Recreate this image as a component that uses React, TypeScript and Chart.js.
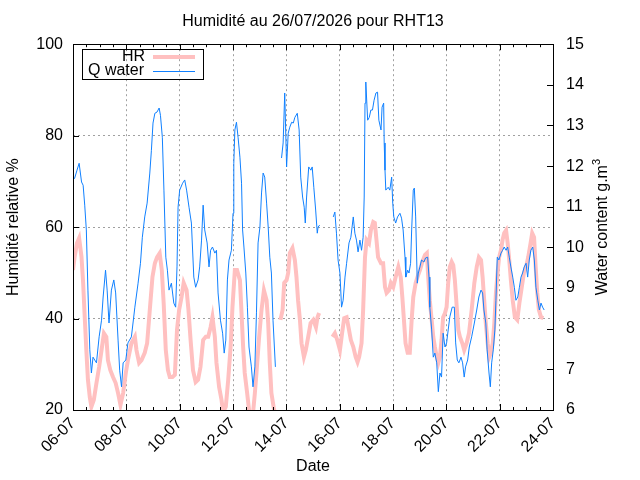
import { useEffect, useRef } from 'react';
import { Chart, registerables } from 'chart.js';

Chart.register(...registerables);

const TITLE = 'Humidité au 26/07/2026 pour RHT13';
const HR_LABEL = 'HR';
const Q_LABEL = 'Q water';
const HR_COLOR = '#ffc0c0';
const Q_COLOR = '#1080ff';
const FONT = "'Liberation Sans', Arial, sans-serif";

// x tick labels (one every 2 days, starting 06-07)
const dayLabels = ['06-07', '08-07', '10-07', '12-07', '14-07', '16-07', '18-07', '20-07', '22-07', '24-07'];

// [days since 06-07 00:00, value] — the logger has two holes, so each series is kept in segments
const hrSeg1: [number, number][] = [
  [0.00, 50.6], [0.06, 53.4], [0.15, 56.5], [0.23, 57.6], [0.32, 53.4], [0.38, 47.8], [0.44, 40.3], [0.50, 33.1],
  [0.56, 26.6], [0.63, 22.8], [0.69, 20.7], [0.78, 22.2], [0.88, 25.9], [0.98, 29.4], [1.07, 33.1], [1.16, 36.8],
  [1.25, 36.0], [1.31, 30.9], [1.40, 28.7], [1.50, 27.2], [1.60, 25.9], [1.69, 23.7], [1.78, 21.1], [1.88, 23.7],
  [1.98, 28.1], [2.06, 30.9], [2.19, 34.6], [2.32, 36.0], [2.38, 33.1], [2.48, 30.3], [2.57, 30.9], [2.69, 32.5],
  [2.78, 34.6], [2.88, 41.9], [2.98, 49.1], [3.07, 52.1], [3.15, 53.4], [3.25, 54.3], [3.33, 50.6], [3.40, 43.4],
  [3.48, 33.1], [3.56, 28.7], [3.63, 27.2], [3.73, 27.2], [3.82, 27.7], [3.90, 37.5], [3.98, 41.9], [4.07, 44.7],
  [4.15, 47.8], [4.26, 46.2], [4.33, 41.9], [4.41, 35.3], [4.50, 28.7], [4.60, 26.1], [4.69, 26.6], [4.78, 29.4],
  [4.88, 35.3], [4.98, 36.0], [5.07, 36.0], [5.16, 38.1], [5.23, 40.3], [5.32, 36.0], [5.38, 30.3], [5.48, 25.0],
  [5.57, 22.2], [5.63, 19.5], [5.73, 20.7], [5.82, 26.6], [5.91, 33.8], [5.98, 42.5], [6.07, 50.6], [6.15, 50.6],
  [6.26, 48.4], [6.32, 41.2], [6.38, 33.8], [6.44, 28.1], [6.53, 23.7], [6.63, 18.5], [6.73, 18.0], [6.82, 23.7],
  [6.88, 28.1], [6.98, 36.0], [7.07, 41.9], [7.16, 46.2], [7.26, 44.0], [7.32, 39.0], [7.38, 30.3], [7.44, 23.7],
  [7.53, 20.4], [7.61, 18.5],
];
const hrSeg2: [number, number][] = [
  [7.78, 39.7], [7.86, 41.9], [7.92, 47.8], [8.01, 48.4], [8.07, 50.0], [8.13, 54.3], [8.23, 55.4], [8.32, 52.8],
  [8.38, 49.1], [8.44, 44.0], [8.51, 39.7], [8.57, 34.6], [8.66, 31.6], [8.73, 33.1], [8.82, 36.0], [8.91, 39.0],
  [9.01, 39.7], [9.11, 38.1], [9.17, 40.3], [9.23, 41.2],
];
const hrSeg3: [number, number][] = [
  [9.73, 36.0], [9.82, 36.8], [9.91, 35.3], [10.01, 33.1], [10.09, 36.8], [10.17, 40.1], [10.26, 40.3], [10.35, 37.5],
  [10.42, 35.3], [10.51, 33.8], [10.60, 31.6], [10.67, 30.5], [10.73, 31.6], [10.82, 34.6], [10.88, 41.9], [10.95, 53.4],
  [11.01, 57.2], [11.10, 56.5], [11.17, 59.3], [11.26, 61.1], [11.32, 60.9], [11.38, 57.2], [11.44, 53.4], [11.55, 52.1],
  [11.63, 52.1], [11.70, 46.9], [11.76, 45.6], [11.85, 46.2], [11.92, 47.8], [12.01, 46.9], [12.10, 49.1], [12.20, 51.3],
  [12.29, 49.1], [12.35, 44.7], [12.41, 39.7], [12.47, 34.6], [12.55, 32.5], [12.63, 32.5], [12.70, 39.7], [12.76, 44.7],
  [12.85, 47.8], [12.92, 49.1], [13.01, 50.6], [13.10, 52.4], [13.20, 53.9], [13.27, 54.3], [13.32, 49.1], [13.38, 44.0],
  [13.45, 39.7], [13.51, 36.0], [13.57, 33.8], [13.64, 31.6], [13.70, 30.3], [13.76, 31.6], [13.82, 35.3], [13.88, 40.3],
  [13.95, 41.2], [14.01, 42.5], [14.07, 47.8], [14.13, 51.3], [14.20, 52.4], [14.26, 51.7], [14.32, 48.4], [14.39, 42.5],
  [14.45, 37.5], [14.51, 36.0], [14.60, 34.6], [14.67, 33.1], [14.76, 34.6], [14.85, 36.8], [14.95, 41.9], [15.05, 47.8],
  [15.14, 51.3], [15.22, 53.4], [15.30, 52.8], [15.36, 49.1], [15.42, 44.0], [15.48, 39.0], [15.55, 34.6], [15.61, 31.6],
  [15.67, 32.5], [15.74, 34.6], [15.80, 39.0], [15.86, 45.6], [15.93, 50.6], [15.98, 53.4], [16.05, 55.0], [16.11, 57.2],
  [16.17, 58.7], [16.24, 59.3], [16.30, 56.5], [16.36, 52.8], [16.42, 48.4], [16.49, 44.0], [16.57, 40.3], [16.66, 39.7],
  [16.74, 43.4], [16.83, 46.9], [16.91, 50.0], [16.99, 51.3], [17.07, 53.4], [17.16, 56.5], [17.22, 58.7], [17.29, 57.8],
  [17.35, 51.3], [17.41, 45.6], [17.47, 41.9], [17.55, 40.3], [17.64, 40.1],
];

const qSeg1: [number, number][] = [
  [0.00, 11.66], [0.06, 11.70], [0.15, 11.90], [0.23, 12.07], [0.32, 11.61], [0.38, 11.53], [0.44, 11.04], [0.50, 10.43],
  [0.56, 8.95], [0.63, 7.48], [0.69, 6.91], [0.75, 7.30], [0.88, 7.16], [0.98, 7.80], [1.07, 8.21], [1.13, 8.78],
  [1.22, 9.44], [1.28, 8.95], [1.35, 8.14], [1.44, 8.95], [1.53, 9.20], [1.60, 8.88], [1.69, 7.72], [1.75, 6.98],
  [1.82, 6.57], [1.88, 7.16], [1.98, 7.23], [2.06, 7.65], [2.19, 7.80], [2.32, 8.53], [2.44, 9.12], [2.53, 9.61],
  [2.60, 10.25], [2.69, 10.75], [2.78, 11.09], [2.88, 11.83], [2.94, 12.39], [3.00, 13.06], [3.07, 13.30], [3.15, 13.33],
  [3.23, 13.43], [3.28, 13.25], [3.35, 12.71], [3.41, 11.41], [3.48, 9.76], [3.54, 9.44], [3.60, 8.95], [3.69, 9.12],
  [3.78, 8.63], [3.85, 8.53], [3.90, 9.52], [3.94, 10.99], [4.00, 11.41], [4.11, 11.58], [4.19, 11.66], [4.26, 11.41],
  [4.35, 10.99], [4.44, 10.60], [4.53, 9.27], [4.60, 9.02], [4.69, 9.20], [4.75, 9.52], [4.82, 10.18], [4.88, 11.04],
  [4.94, 10.43], [5.03, 10.11], [5.10, 9.52], [5.16, 9.93], [5.23, 10.01], [5.32, 9.86], [5.38, 9.93], [5.44, 8.88],
  [5.53, 8.21], [5.61, 7.89], [5.67, 7.40], [5.73, 7.72], [5.79, 9.20], [5.85, 9.69], [5.94, 9.93], [6.00, 10.84],
  [6.03, 12.07], [6.07, 12.89], [6.13, 13.08], [6.19, 12.71], [6.26, 12.22], [6.32, 11.58], [6.36, 10.43], [6.41, 10.01],
  [6.48, 9.37], [6.54, 8.53], [6.60, 7.55], [6.69, 7.06], [6.75, 6.57], [6.82, 7.06], [6.88, 8.39], [6.94, 10.11],
  [7.01, 10.50], [7.07, 11.34], [7.13, 11.83], [7.19, 11.73], [7.26, 11.09], [7.32, 10.50], [7.38, 9.76], [7.44, 9.37],
  [7.50, 8.21], [7.59, 7.06],
];
const qSeg2: [number, number][] = [
  [7.82, 12.20], [7.88, 12.57], [7.94, 13.80], [8.01, 11.98], [8.07, 12.81], [8.13, 12.96], [8.20, 13.08], [8.26, 13.06],
  [8.32, 13.20], [8.41, 13.30], [8.48, 12.89], [8.54, 11.73], [8.61, 11.24], [8.67, 10.99], [8.71, 10.60], [8.76, 11.24],
  [8.84, 11.98], [8.92, 11.90], [8.97, 11.98], [9.03, 11.48], [9.10, 10.92], [9.16, 10.35], [9.19, 10.50], [9.25, 10.55],
];
const qSeg3: [number, number][] = [
  [9.76, 10.75], [9.82, 10.87], [9.88, 10.35], [9.94, 9.69], [10.01, 9.37], [10.07, 8.53], [10.13, 8.70], [10.20, 9.27],
  [10.26, 9.61], [10.35, 10.11], [10.42, 10.25], [10.51, 10.75], [10.57, 10.35], [10.63, 10.18], [10.69, 9.89], [10.76, 10.18],
  [10.82, 9.93], [10.88, 10.25], [10.92, 11.24], [10.95, 13.55], [10.98, 14.07], [11.05, 13.13], [11.11, 13.20], [11.17, 13.38],
  [11.23, 13.38], [11.29, 13.62], [11.36, 13.80], [11.42, 13.82], [11.47, 13.13], [11.55, 12.89], [11.59, 13.45], [11.65, 13.55],
  [11.67, 12.57], [11.70, 11.90], [11.73, 11.41], [11.82, 11.48], [11.88, 11.41], [11.95, 11.73], [11.99, 11.09], [12.03, 10.75],
  [12.10, 10.60], [12.17, 10.75], [12.26, 10.84], [12.32, 10.72], [12.38, 10.43], [12.45, 9.76], [12.48, 9.27], [12.55, 9.44],
  [12.60, 9.37], [12.66, 9.61], [12.70, 10.43], [12.76, 11.41], [12.80, 11.46], [12.85, 10.75], [12.91, 9.12], [12.95, 9.37],
  [13.01, 9.52], [13.07, 9.69], [13.16, 9.64], [13.22, 9.74], [13.30, 9.76], [13.35, 9.27], [13.38, 8.53], [13.45, 7.97],
  [13.51, 7.30], [13.57, 7.40], [13.64, 7.16], [13.70, 6.45], [13.76, 6.91], [13.82, 6.81], [13.88, 7.89], [13.95, 7.55],
  [14.01, 7.65], [14.07, 7.97], [14.13, 8.29], [14.22, 8.53], [14.30, 8.53], [14.35, 7.65], [14.41, 7.23], [14.47, 7.16],
  [14.55, 7.30], [14.61, 7.16], [14.67, 6.81], [14.72, 7.06], [14.80, 7.23], [14.86, 7.55], [14.95, 7.80], [15.05, 8.14],
  [15.14, 8.46], [15.22, 8.78], [15.30, 8.95], [15.36, 8.88], [15.41, 8.46], [15.48, 8.14], [15.53, 7.48], [15.60, 6.91],
  [15.65, 6.57], [15.70, 7.16], [15.76, 7.48], [15.82, 7.97], [15.86, 8.70], [15.91, 9.76], [15.97, 9.69], [16.05, 9.86],
  [16.11, 9.93], [16.17, 10.01], [16.24, 9.93], [16.30, 10.01], [16.36, 9.76], [16.42, 9.52], [16.49, 9.27], [16.55, 9.02],
  [16.61, 8.70], [16.68, 8.78], [16.74, 9.02], [16.80, 9.27], [16.86, 9.37], [16.92, 9.52], [16.99, 9.61], [17.05, 9.27],
  [17.11, 9.69], [17.17, 9.93], [17.24, 10.01], [17.30, 9.69], [17.36, 9.02], [17.43, 8.70], [17.49, 8.46], [17.55, 8.63],
  [17.61, 8.53], [17.67, 8.46],
];

// join segments, putting a null point between them so the line breaks
function joinSegments(segments: [number, number][][]) {
  const out: { x: number; y: number | null }[] = [];
  segments.forEach((seg, i) => {
    seg.forEach(([x, y]) => out.push({ x, y }));
    if (i < segments.length - 1) out.push({ x: seg[seg.length - 1][0] + 0.01, y: null });
  });
  return out;
}

// gnuplot-like decorations: inward ticks, frame, key box, y2 label with superscript
const gnuplotDecor = {
  id: 'gnuplotDecor',
  afterDraw(chart: Chart) {
    const { ctx, chartArea: a, scales } = chart;
    const xs = scales.x;
    const ys = scales.y;
    const y2 = scales.y1;
    const px = (v: number) => Math.round(v) + 0.5;

    ctx.save();
    ctx.strokeStyle = '#000';
    ctx.lineWidth = 1;
    ctx.setLineDash([]);
    ctx.beginPath();
    for (let d = xs.min; d <= xs.max + 1e-6; d += 0.5) {
      const x = px(xs.getPixelForValue(d));
      const len = Math.abs(d % 2) < 1e-6 ? 6 : 3;
      ctx.moveTo(x, a.bottom);
      ctx.lineTo(x, a.bottom - len);
      ctx.moveTo(x, a.top);
      ctx.lineTo(x, a.top + len);
    }
    ys.ticks.forEach((t) => {
      const y = px(ys.getPixelForValue(t.value));
      ctx.moveTo(a.left, y);
      ctx.lineTo(a.left + 6, y);
    });
    y2.ticks.forEach((t) => {
      const y = px(y2.getPixelForValue(t.value));
      ctx.moveTo(a.right, y);
      ctx.lineTo(a.right - 6, y);
    });
    ctx.stroke();
    ctx.strokeRect(px(a.left), px(a.top), Math.round(a.width), Math.round(a.height));

    // key
    const kx = Math.round(a.left) + 9;
    const ky = Math.round(a.top) + 5;
    ctx.strokeRect(kx + 0.5, ky + 0.5, 121, 30);
    ctx.font = `16px ${FONT}`;
    ctx.fillStyle = '#000';
    ctx.textAlign = 'right';
    ctx.textBaseline = 'alphabetic';
    ctx.fillText(HR_LABEL, kx + 63, ky + 12);
    ctx.fillText(Q_LABEL, kx + 62, ky + 26);
    ctx.lineCap = 'butt';
    ctx.strokeStyle = HR_COLOR;
    ctx.lineWidth = 4;
    ctx.beginPath();
    ctx.moveTo(kx + 71, ky + 8);
    ctx.lineTo(kx + 113, ky + 8);
    ctx.stroke();
    ctx.strokeStyle = Q_COLOR;
    ctx.lineWidth = 1;
    ctx.beginPath();
    ctx.moveTo(kx + 71, ky + 22.5);
    ctx.lineTo(kx + 113, ky + 22.5);
    ctx.stroke();

    // y2 axis title, reads bottom to top
    ctx.translate(a.right + 54, (a.top + a.bottom) / 2);
    ctx.rotate(-Math.PI / 2);
    ctx.textAlign = 'left';
    const main = 'Water content g.m';
    ctx.font = `16px ${FONT}`;
    const mainW = ctx.measureText(main).width;
    ctx.font = `11px ${FONT}`;
    const supW = ctx.measureText('3').width;
    const start = -(mainW + supW) / 2;
    ctx.font = `16px ${FONT}`;
    ctx.fillText(main, start, 0);
    ctx.font = `11px ${FONT}`;
    ctx.fillText('3', start + mainW, -7);
    ctx.restore();
  },
};

export default function App() {
  const canvasRef = useRef<HTMLCanvasElement>(null);
  const chartRef = useRef<Chart | null>(null);

  useEffect(() => {
    if (!canvasRef.current) return;
    if (chartRef.current) chartRef.current.destroy();

    Chart.defaults.font.family = FONT;
    Chart.defaults.font.size = 16;
    Chart.defaults.color = '#000';

    chartRef.current = new Chart(canvasRef.current, {
      type: 'line',
      data: {
        datasets: [
          {
            label: HR_LABEL,
            data: joinSegments([hrSeg1, hrSeg2, hrSeg3]),
            borderColor: HR_COLOR,
            borderWidth: 4,
            pointRadius: 0,
            spanGaps: false,
            yAxisID: 'y',
            order: 2,
            clip: 0,
          },
          {
            label: Q_LABEL,
            data: joinSegments([qSeg1, qSeg2, qSeg3]),
            borderColor: Q_COLOR,
            borderWidth: 1,
            pointRadius: 0,
            spanGaps: false,
            yAxisID: 'y1',
            order: 1,
            clip: 0,
          },
        ],
      },
      options: {
        responsive: true,
        maintainAspectRatio: false,
        animation: false,
        events: [],
        layout: { padding: 0 },
        plugins: {
          legend: { display: false },
          tooltip: { enabled: false },
          title: {
            display: true,
            text: TITLE,
            color: '#000',
            fullSize: false,
            font: { size: 16, weight: 'normal' },
            padding: { top: 12, bottom: 13 },
          },
        },
        scales: {
          x: {
            type: 'linear',
            min: 0,
            max: 18,
            afterFit: (s: any) => {
              s.height = 70;
            },
            grid: { color: '#a0a0a0', drawTicks: false },
            border: { display: false, dash: [2, 3] },
            ticks: {
              stepSize: 2,
              autoSkip: false,
              maxRotation: 45,
              minRotation: 45,
              padding: 4,
              color: '#000',
              callback: (v: any) => dayLabels[Math.round(Number(v) / 2)],
            },
            title: { display: true, text: 'Date', color: '#000', padding: { top: 0, bottom: 4 } },
          },
          y: {
            position: 'left',
            min: 20,
            max: 100,
            afterFit: (s: any) => {
              s.width = 73;
            },
            grid: { color: '#a0a0a0', drawTicks: false },
            border: { display: false, dash: [2, 3] },
            ticks: { stepSize: 20, padding: 10, color: '#000' },
            title: { display: true, text: 'Humidité relative %', color: '#000', padding: { top: 4, bottom: 0 } },
          },
          y1: {
            position: 'right',
            min: 6,
            max: 15,
            afterFit: (s: any) => {
              s.width = 87;
            },
            grid: { display: false, drawTicks: false },
            border: { display: false },
            ticks: { stepSize: 1, padding: 13, color: '#000' },
          },
        },
      },
      plugins: [gnuplotDecor],
    });

    return () => {
      if (chartRef.current) {
        chartRef.current.destroy();
        chartRef.current = null;
      }
    };
  }, []);

  return (
    <div style={{ position: 'absolute', left: 0, top: 0, width: 640, height: 480, background: '#fff' }}>
      <canvas ref={canvasRef} />
    </div>
  );
}
